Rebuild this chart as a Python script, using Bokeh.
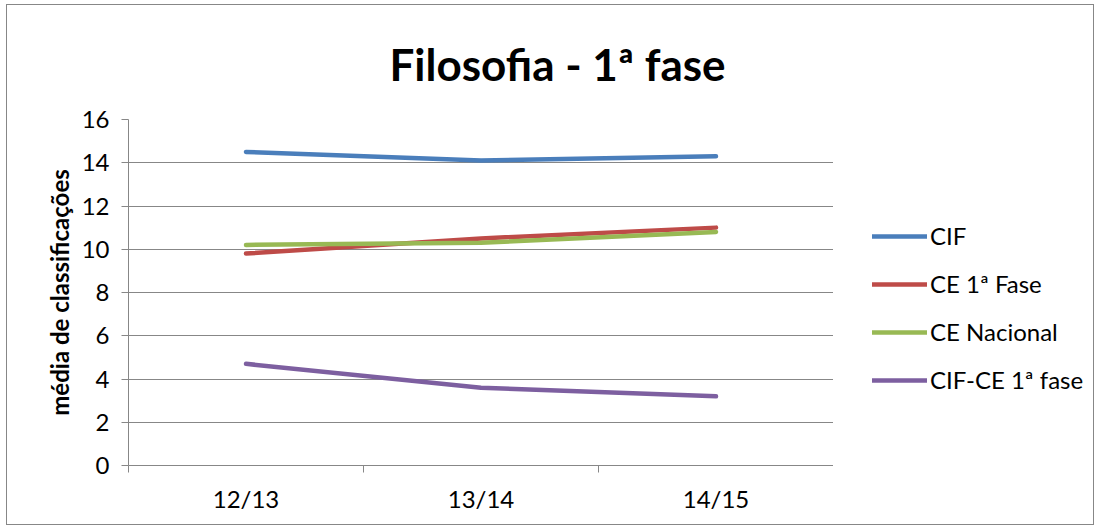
from bokeh.plotting import figure
from bokeh.layouts import row
from bokeh.models import FixedTicker, Legend, LegendItem, Title, Range1d
from bokeh.embed import file_html
from bokeh.resources import INLINE

categories = ["12/13", "13/14", "14/15"]
cif = [14.5, 14.1, 14.3]
ce_1fase = [9.8, 10.5, 11.0]
ce_nacional = [10.2, 10.3, 10.8]
cif_ce = [4.7, 3.6, 3.2]

series_names = ["CIF", "CE 1ª Fase", "CE Nacional", "CIF-CE 1ª fase"]
series_values = [cif, ce_1fase, ce_nacional, cif_ce]
series_colors = ["#4A7EBB", "#BE4B48", "#98B954", "#7D5FA0"]

xs = [i + 0.5 for i in range(len(categories))]
FONT = "Lato"
GRAY = "#878787"

p = figure(width=826, height=519, output_backend="svg", toolbar_location=None,
           x_range=Range1d(0, len(categories)), y_range=Range1d(0, 16),
           min_border_left=121, min_border_right=0, min_border_top=112,
           min_border_bottom=59)
p.outline_line_color = None
p.background_fill_color = "white"
p.border_fill_color = "white"

p.title = Title(text="Filosofia - 1ª fase", align="left", offset=261,
                text_font=FONT, text_font_size="44px", text_font_style="bold",
                text_color="black", standoff=60)

# y axis
p.yaxis.ticker = FixedTicker(ticks=list(range(0, 17, 2)))
p.yaxis.axis_line_color = GRAY
p.yaxis.major_tick_line_color = GRAY
p.yaxis.major_tick_out = 7
p.yaxis.major_tick_in = 0
p.yaxis.minor_tick_line_color = None
p.yaxis.major_label_text_font = FONT
p.yaxis.major_label_text_font_size = "24px"
p.yaxis.major_label_text_color = "black"
p.yaxis.major_label_standoff = 12
p.yaxis.axis_label = "média de classificações"
p.yaxis.axis_label_text_font = FONT
p.yaxis.axis_label_text_font_size = "24px"
p.yaxis.axis_label_text_font_style = "bold"
p.yaxis.axis_label_text_color = "black"
p.yaxis.axis_label_standoff = 5

# x axis
p.xaxis.ticker = FixedTicker(ticks=xs, minor_ticks=list(range(len(categories) + 1)))
p.xaxis.major_label_overrides = {x: c for x, c in zip(xs, categories)}
p.xaxis.axis_line_color = GRAY
p.xaxis.major_tick_line_color = None
p.xaxis.major_tick_out = 0
p.xaxis.major_tick_in = 0
p.xaxis.minor_tick_line_color = GRAY
p.xaxis.minor_tick_out = 7
p.xaxis.minor_tick_in = 0
p.xaxis.major_label_text_font = FONT
p.xaxis.major_label_text_font_size = "24px"
p.xaxis.major_label_text_color = "black"
p.xaxis.major_label_standoff = 11

p.xgrid.grid_line_color = None
p.ygrid.ticker = FixedTicker(ticks=list(range(0, 17, 2)))
p.ygrid.grid_line_color = GRAY
p.ygrid.grid_line_width = 1

for vals, col in zip(series_values, series_colors):
    p.line(xs, vals, line_color=col, line_width=4.5, line_cap="round", line_join="round")

# legend panel on the right (its lines lie outside its visible range; only the legend shows)
lg = figure(width=260, height=519, output_backend="svg", toolbar_location=None,
            x_range=Range1d(-2, -1), y_range=Range1d(0, 16),
            x_axis_location=None, y_axis_location=None,
            min_border_left=0, min_border_right=0, min_border_top=0, min_border_bottom=0)
lg.outline_line_color = None
lg.grid.visible = False
lg.background_fill_color = "white"
lg.border_fill_color = "white"

items = []
for name, vals, col in zip(series_names, series_values, series_colors):
    r = lg.line(xs, vals, line_color=col, line_width=4.5, line_cap="round")
    items.append(LegendItem(label=name, renderers=[r]))

legend = Legend(items=items, location=(39, 71), orientation="vertical",
                label_text_font=FONT, label_text_font_size="24px", label_text_color="black",
                glyph_width=55, glyph_height=24, label_height=24, label_standoff=3,
                spacing=19, padding=0, margin=0,
                border_line_color=None, background_fill_alpha=0)
lg.add_layout(legend, "center")

layout = row(p, lg, spacing=0)
layout.styles = {"border": "1px solid #878787", "margin": "4px 0 0 6px"}

open("out.html", "w").write(file_html(layout, INLINE))
